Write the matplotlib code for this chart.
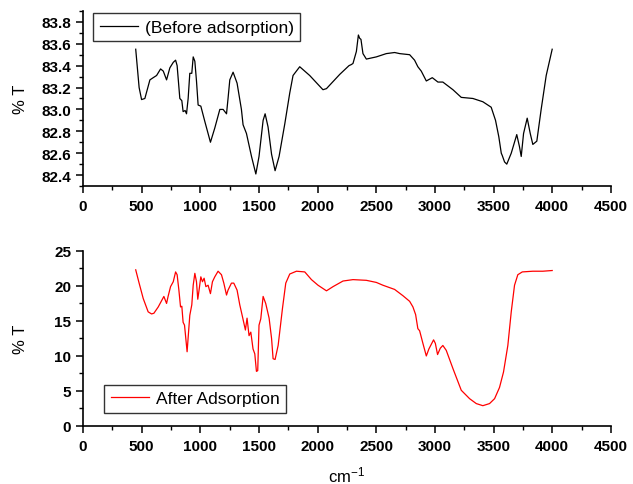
import matplotlib
matplotlib.use('Agg')
import matplotlib.pyplot as plt
from matplotlib.ticker import MultipleLocator, FormatStrFormatter

plt.rcParams['font.family'] = ['Liberation Sans', 'DejaVu Sans']
plt.rcParams['mathtext.fontset'] = 'custom'
plt.rcParams['mathtext.rm'] = 'Liberation Sans'
plt.rcParams['mathtext.it'] = 'Liberation Sans'

# before adsorption (black)
wn_before = [450, 479, 500, 528, 571, 599, 628, 662, 685, 713, 741, 770, 790, 803,
             826, 843, 854, 871, 883, 897, 911, 928, 940, 954, 968, 982, 1005, 1039,
             1087, 1124, 1167, 1195, 1224, 1237, 1252, 1280, 1314, 1351, 1365, 1394,
             1437, 1474, 1501, 1536, 1553, 1578, 1608, 1638, 1672, 1721, 1763, 1791,
             1848, 1933, 2046, 2076, 2189, 2268, 2288, 2302, 2331, 2348, 2359, 2370,
             2387, 2416, 2501, 2586, 2657, 2700, 2785, 2827, 2855, 2884, 2927, 2978,
             3026, 3068, 3154, 3225, 3324, 3409, 3480, 3517, 3545, 3566, 3574, 3594,
             3613, 3651, 3698, 3721, 3736, 3756, 3787, 3813, 3835, 3869, 3906, 3949, 4000]
t_before = [83.55, 83.20, 83.09, 83.10, 83.27, 83.29, 83.31, 83.37, 83.35, 83.27, 83.38,
            83.43, 83.45, 83.40, 83.10, 83.08, 82.98, 82.99, 82.96, 83.10, 83.33, 83.33,
            83.48, 83.44, 83.26, 83.04, 83.03, 82.89, 82.70, 82.83, 83.00, 83.00, 82.96,
            83.10, 83.27, 83.34, 83.24, 83.00, 82.86, 82.78, 82.57, 82.41, 82.57, 82.90,
            82.96, 82.84, 82.59, 82.44, 82.57, 82.87, 83.15, 83.31, 83.39, 83.31, 83.18,
            83.19, 83.32, 83.40, 83.41, 83.42, 83.53, 83.68, 83.65, 83.64, 83.51, 83.46,
            83.48, 83.51, 83.52, 83.51, 83.50, 83.45, 83.39, 83.35, 83.26, 83.29, 83.25,
            83.25, 83.18, 83.11, 83.10, 83.07, 83.02, 82.90, 82.75, 82.60, 82.58, 82.52,
            82.50, 82.60, 82.77, 82.66, 82.57, 82.78, 82.92, 82.78, 82.68, 82.71, 83.00,
            83.31, 83.55]

# after adsorption (red)
wn_after = [450, 479, 514, 556, 585, 605, 642, 690, 713, 726, 747, 770, 790, 803, 818,
            832, 843, 854, 866, 888, 911, 928, 940, 954, 968, 979, 990, 1005, 1019, 1033,
            1048, 1067, 1087, 1104, 1124, 1152, 1181, 1201, 1224, 1237, 1266, 1286, 1314,
            1337, 1360, 1385, 1399, 1416, 1431, 1450, 1465, 1479, 1490, 1501, 1516, 1536,
            1558, 1587, 1608, 1621, 1638, 1664, 1701, 1729, 1763, 1820, 1891, 1948, 2004,
            2076, 2132, 2217, 2302, 2416, 2501, 2557, 2657, 2728, 2785, 2813, 2836, 2855,
            2870, 2898, 2927, 2949, 2989, 3004, 3023, 3046, 3068, 3097, 3154, 3225, 3296,
            3353, 3409, 3466, 3509, 3551, 3585, 3622, 3651, 3679, 3707, 3745, 3835, 3920, 4000]
t_after = [22.3, 20.4, 18.2, 16.3, 16.0, 16.1, 17.0, 18.5, 17.5, 18.5, 19.9, 20.6, 22.0,
           21.6, 19.4, 17.0, 17.1, 14.8, 14.4, 10.6, 15.8, 17.3, 20.1, 21.8, 20.6, 18.1,
           19.4, 21.3, 20.6, 21.1, 19.9, 20.1, 18.9, 20.6, 21.3, 22.1, 21.6, 20.4, 18.7,
           19.4, 20.4, 20.4, 19.4, 17.3, 15.6, 13.7, 15.4, 12.9, 13.4, 11.0, 10.3, 7.8,
           7.9, 14.4, 15.3, 18.5, 17.5, 15.4, 12.5, 9.6, 9.5, 11.5, 16.8, 20.4, 21.7,
           22.1, 22.0, 20.9, 20.1, 19.3, 19.9, 20.7, 20.9, 20.8, 20.5, 20.1, 19.5, 18.6,
           17.8, 17.0, 15.9, 13.9, 13.6, 11.8, 10.0, 11.0, 12.3, 11.8, 10.2, 11.1, 11.5,
           10.8, 8.2, 5.1, 3.9, 3.2, 2.9, 3.2, 3.9, 5.5, 7.7, 11.5, 16.3, 20.1, 21.6,
           22.0, 22.1, 22.1, 22.2]

fig = plt.figure(figsize=(6.33, 4.85), dpi=100)
ax1 = fig.add_axes([0.131, 0.6144, 0.834, 0.361])
ax2 = fig.add_axes([0.131, 0.1196, 0.834, 0.361])

ax1.plot(wn_before, t_before, color='black', lw=0.9, label='(Before adsorption)')
ax2.plot(wn_after, t_after, color='#ff0000', lw=0.9, label='After Adsorption')

ax1.set_ylim(82.3, 83.9)
ax1.set_yticks([82.4, 82.6, 82.8, 83.0, 83.2, 83.4, 83.6, 83.8])
ax1.yaxis.set_minor_locator(MultipleLocator(0.1))
ax1.yaxis.set_major_formatter(FormatStrFormatter('%.1f'))
ax2.set_ylim(0, 25)
ax2.yaxis.set_major_locator(MultipleLocator(5))
ax2.yaxis.set_minor_locator(MultipleLocator(2.5))

for ax in (ax1, ax2):
    ax.set_xlim(0, 4500)
    ax.xaxis.set_major_locator(MultipleLocator(500))
    ax.xaxis.set_minor_locator(MultipleLocator(250))
    ax.spines['top'].set_visible(False)
    ax.spines['right'].set_visible(False)
    ax.spines['left'].set_linewidth(1.2)
    ax.spines['bottom'].set_linewidth(1.2)
    ax.tick_params(which='major', direction='out', length=5, width=1.1, labelsize=11)
    ax.tick_params(axis='x', which='major', pad=4.5)
    ax.tick_params(which='minor', direction='out', length=3, width=1.0)
    for lab in ax.get_xticklabels() + ax.get_yticklabels():
        lab.set_fontweight('bold')
    ax.set_ylabel('% T', fontsize=12)
    ax.yaxis.set_label_coords(-0.104, 0.5)

ax2.set_xlabel('cm$^{-1}$', fontsize=12, labelpad=8)

for ax, anchor, loc in ((ax1, (0.019, 0.989), 'upper left'),
                        (ax2, (0.04, 0.074), 'lower left')):
    leg = ax.legend(loc=loc, bbox_to_anchor=anchor, borderaxespad=0,
                    fontsize=12.5, frameon=True, fancybox=False, handlelength=2.2,
                    borderpad=0.38, handletextpad=0.4)
    leg.get_frame().set_edgecolor('black')
    leg.get_frame().set_linewidth(1.0)

fig.savefig('out.png', dpi=100)
